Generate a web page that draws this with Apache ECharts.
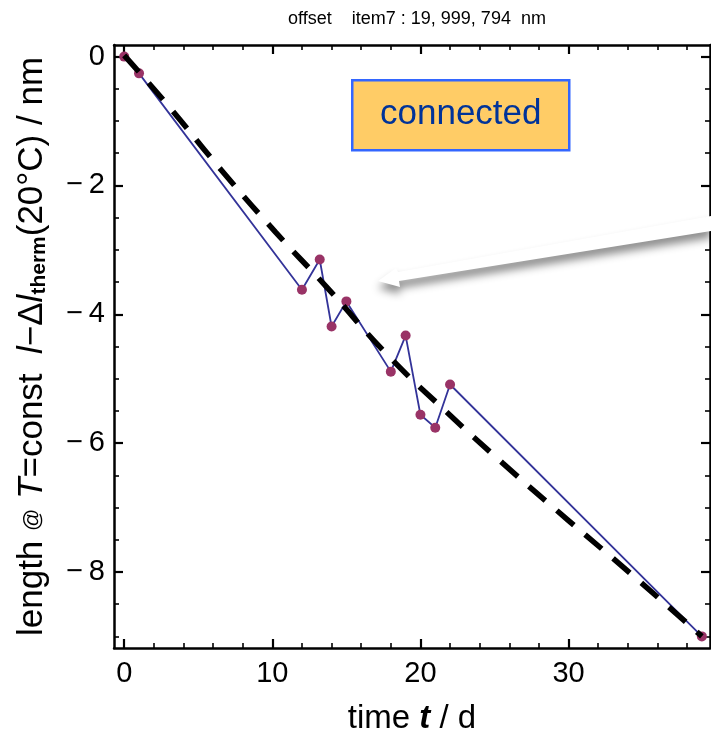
<!DOCTYPE html>
<html>
<head>
<meta charset="utf-8">
<script src="https://cdn.jsdelivr.net/npm/echarts@6/dist/echarts.min.js"></script>
<style>html,body{margin:0;padding:0;background:#fff}#c{width:711px;height:741px}</style>
</head>
<body>
<div id="c"></div>
<script>
// measured points
const days = [0, 1, 12, 13.2, 14, 15, 18, 19, 20, 21, 22, 39];
const lengths = [0, -0.26, -3.62, -3.15, -4.19, -3.80, -4.89, -4.33, -5.56, -5.76, -5.09, -9.0];
// dashed trend curve
const fitDays = [0, 3.0, 6.55, 10.2, 13.64, 17.69, 21.69, 25.55, 29.94, 34.17, 39];
const fitVals = [0.02, -0.77, -1.76, -2.72, -3.57, -4.61, -5.50, -6.31, -7.19, -8.02, -9.0];
// ticks
const xMajor = [0, 10, 20, 30];
const xMinor = [2, 4, 6, 8, 12, 14, 16, 18, 22, 24, 26, 28, 32, 34, 36, 38];
const yMajor = [0, -2, -4, -6, -8];
const yMinor = [-0.5, -1, -1.5, -2.5, -3, -3.5, -4.5, -5, -5.5, -6.5, -7, -7.5, -8.5, -9];
const xRange = [-0.69, 39.55];
const yRange = [-9.18, 0.18];
const titleText = 'offset    item7 : 19, 999, 794  nm';
const boxText = 'connected';

const FONT = '"Liberation Sans", Arial, sans-serif';
const lineStyle = {color: '#000', width: 2.5};

function xAx(pos, ticks, len, major, showLine) {
  return {
    type: 'value', position: pos, min: xRange[0], max: xRange[1],
    axisLine: {show: showLine, onZero: false, lineStyle: lineStyle},
    axisTick: {show: true, inside: true, length: len, customValues: ticks, lineStyle: {color: '#000', width: major ? 2.2 : 1.6}},
    axisLabel: {show: false},
    splitLine: {show: false}
  };
}
function yAx(pos, ticks, len, major, showLine) {
  return {
    type: 'value', position: pos, min: yRange[0], max: yRange[1],
    axisLine: {show: showLine, onZero: false, lineStyle: lineStyle},
    axisTick: {show: true, inside: true, length: len, customValues: ticks, lineStyle: {color: '#000', width: major ? 2.2 : 1.6}},
    axisLabel: {show: false},
    splitLine: {show: false}
  };
}

const xb = xAx('bottom', xMajor, 9, true, true);
xb.axisLabel = {show: true, customValues: xMajor, fontSize: 29, color: '#000', fontFamily: FONT, margin: 11};
xb.name = 'time {i|t} / d';
xb.nameLocation = 'middle';
xb.nameGap = 54;
xb.nameTextStyle = {fontSize: 33, color: '#000', fontFamily: FONT,
  rich: {i: {fontSize: 33, fontStyle: 'italic', fontWeight: 'bold', fontFamily: FONT, color: '#000'}}};

const yl = yAx('left', yMajor, 9, true, true);
yl.axisLabel = {show: true, customValues: yMajor, fontSize: 29, color: '#000', fontFamily: FONT, margin: 9,
  formatter: v => v === 0 ? '0' : '\u2212\u2009' + Math.abs(v)};
yl.name = '{n|length }{a|@}{n| }{i|T}{n|=const  }{i|l}{n|\u2212\u0394}{i|l}{s|therm}{n|(20°C) / nm}';
yl.nameLocation = 'middle';
yl.nameGap = 64;
yl.nameTextStyle = {color: '#000', fontFamily: FONT, fontSize: 35,
  rich: {
    n: {fontSize: 35, fontFamily: FONT, color: '#000'},
    a: {fontSize: 22, fontFamily: FONT, color: '#000'},
    i: {fontSize: 35, fontFamily: FONT, fontStyle: 'italic', color: '#000'},
    s: {fontSize: 21, fontFamily: FONT, fontWeight: 'bold', color: '#000', verticalAlign: 'bottom', padding: [14, 0, 0, 0]}
  }};

const option = {
  backgroundColor: '#fff',
  animation: false,
  title: {text: titleText, left: 412, top: 5, textAlign: 'center',
    textStyle: {fontSize: 18, fontWeight: 'normal', color: '#000', fontFamily: FONT}},
  grid: {left: 114, right: 1, top: 45, bottom: 93, containLabel: false},
  xAxis: [xb, xAx('bottom', xMinor, 5, false, false), xAx('top', xMajor, 9, true, true), xAx('top', xMinor, 5, false, false)],
  yAxis: [yl, yAx('left', yMinor, 5, false, false), yAx('right', yMajor, 9, true, true), yAx('right', yMinor, 5, false, false)],
  series: [
    {
      type: 'line', data: days.map((d, i) => [d, lengths[i]]),
      xAxisIndex: 0, yAxisIndex: 0,
      lineStyle: {color: '#333399', width: 1.8},
      symbol: 'circle', symbolSize: 10,
      itemStyle: {color: '#993366'}, z: 3
    },
    {
      type: 'line', data: fitDays.map((d, i) => [d, fitVals[i]]),
      xAxisIndex: 0, yAxisIndex: 0, smooth: true, showSymbol: false, symbol: 'none',
      lineStyle: {color: '#000', width: 5.5, type: [22, 15], cap: 'butt'}, z: 4
    }
  ],
  graphic: [
    {type: 'polygon', z: 10,
      shape: {points: [[711, 216], [398, 272], [396, 268], [378, 281], [400, 287], [399, 281], [711, 231]]},
      style: {fill: '#ffffff', shadowColor: 'rgba(0,0,0,0.45)', shadowBlur: 8, shadowOffsetX: 0, shadowOffsetY: 7}},
    {type: 'group', left: 351, top: 79, z: 10, children: [
      {type: 'rect', shape: {x: 0, y: 0, width: 217, height: 70},
        style: {fill: '#FFCC66', stroke: '#3366FF', lineWidth: 2.5}},
      {type: 'text', x: 108.5, y: 34,
        style: {text: boxText, fontSize: 35, fill: '#003399', fontFamily: FONT, align: 'center', verticalAlign: 'middle'}}
    ]}
  ]
};
const chart = echarts.init(document.getElementById('c'), null, {renderer: 'canvas'});
chart.setOption(option);
</script>
</body>
</html>
